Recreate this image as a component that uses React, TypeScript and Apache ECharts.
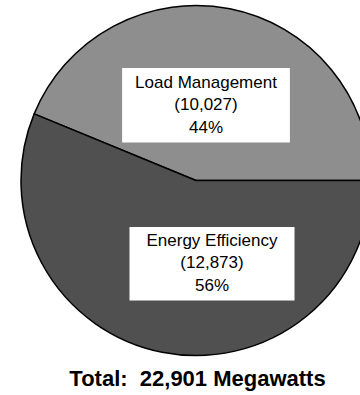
import React, { useEffect, useRef } from "react";
import * as echarts from "echarts";

const categories = ["Load Management", "Energy Efficiency"];
const values = [10027, 12873];
const percents = [44, 56];
const totalText = "Total:  22,901 Megawatts";

const sliceColors = ["#8e8e8e", "#505050"];
const labelPos = [
  { x: 206, y: 68, pad: [3, 13, 4, 13] },
  { x: 212, y: 227, pad: [2, 17, 4, 17] },
];

const fmt = (v: number) => v.toLocaleString("en-US");

export default function App() {
  const ref = useRef<HTMLDivElement>(null);
  useEffect(() => {
    if (!ref.current) return;
    const chart = echarts.init(ref.current, undefined, { renderer: "svg" });
    const total = values.reduce((a, b) => a + b, 0);
    const startAngle = (360 * values[0]) / total;
    chart.setOption({
      animation: false,
      backgroundColor: "#ffffff",
      series: [
        {
          type: "pie",
          center: [196, 180.5],
          radius: 175,
          startAngle,
          clockwise: true,
          silent: true,
          itemStyle: { borderColor: "#000", borderWidth: 1.5 },
          label: {
            show: true,
            position: "inside",
            fontFamily: "Liberation Sans, Arial, sans-serif",
            fontSize: 17,
            lineHeight: 22.5,
            color: "#000",
            backgroundColor: "#ffffff",
            align: "center",
          },
          labelLine: { show: false },
          labelLayout: (p: any) => ({
            x: labelPos[p.dataIndex].x,
            y: labelPos[p.dataIndex].y,
            align: "center",
            verticalAlign: "top",
          }),
          data: categories.map((name, i) => ({
            name,
            value: values[i],
            itemStyle: { color: sliceColors[i] },
            label: {
              formatter: `${name}\n(${fmt(values[i])})\n${percents[i]}%`,
              padding: labelPos[i].pad,
            },
          })),
        },
      ],
      graphic: [
        {
          type: "text",
          x: 197.5,
          y: 378.5,
          style: {
            text: totalText,
            fontFamily: "Liberation Sans, Arial, sans-serif",
            fontSize: 22,
            fontWeight: "bold",
            fill: "#000",
            align: "center",
            verticalAlign: "middle",
          },
        },
      ],
    });
    return () => chart.dispose();
  }, []);
  return (
    <div
      ref={ref}
      style={{ position: "fixed", left: 0, top: 0, width: 360, height: 395 }}
    />
  );
}
